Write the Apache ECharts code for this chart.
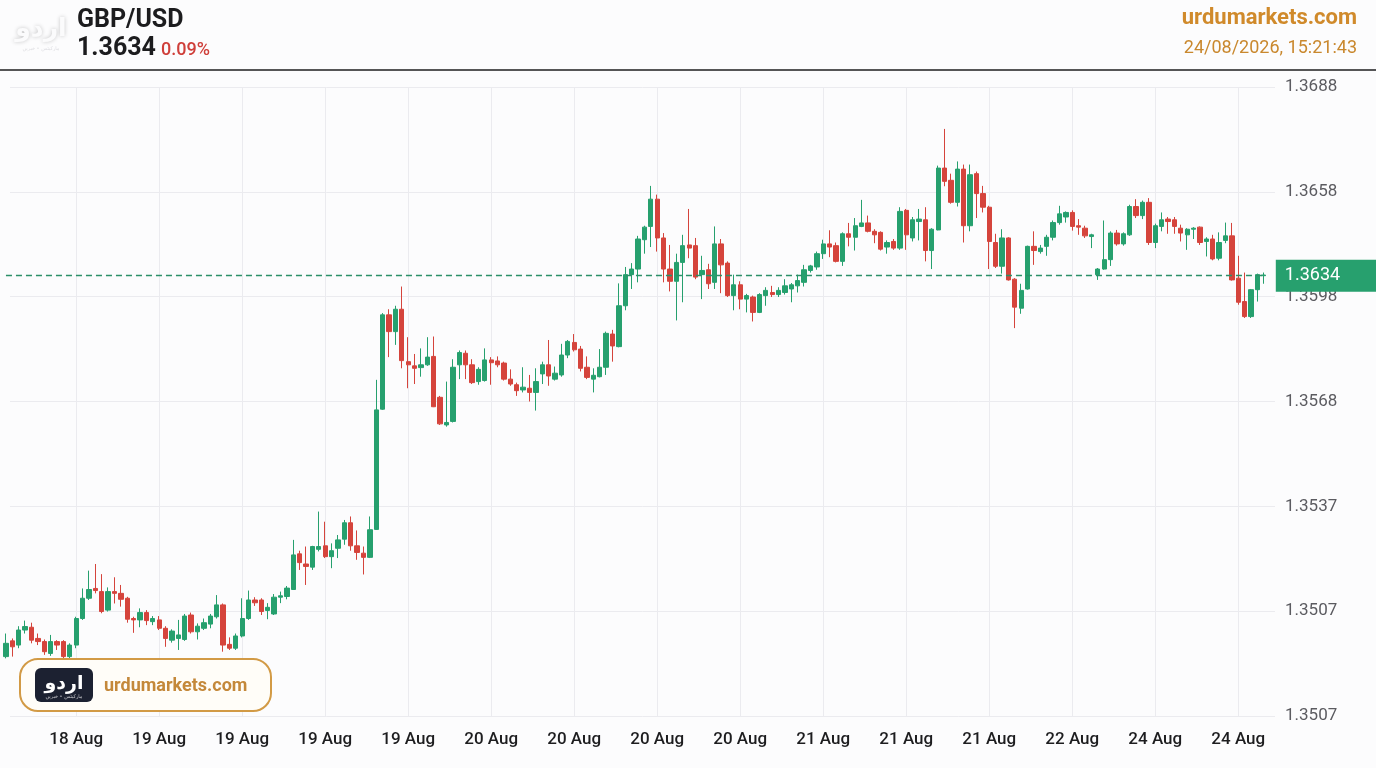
<!DOCTYPE html>
<html>
<head>
<meta charset="utf-8">
<script src="https://cdn.jsdelivr.net/npm/echarts@6/dist/echarts.min.js"></script>
<style>
html,body{margin:0;padding:0;background:#fcfcfd;}
#c{width:1376px;height:768px;}
</style>
</head>
<body>
<div id="c"></div>
<script>
// ---- data ----
const opens = [
1.35250,1.35295,1.35283,1.35326,1.35334,1.35302,1.35293,1.35259,1.35293,1.35293,
1.35250,1.35283,1.35359,1.35417,1.35445,1.35436,1.35383,1.35436,1.35431,1.35417,
1.35359,1.35355,1.35376,1.35350,1.35355,1.35331,1.35297,1.35302,1.35299,1.35369,
1.35321,1.35331,1.35343,1.35364,1.35398,1.35285,1.35274,1.35309,1.35359,1.35412,
1.35412,1.35382,1.35372,1.35420,1.35422,1.35442,1.35544,1.35515,1.35506,1.35557,
1.35567,1.35536,1.35560,1.35586,1.35633,1.35567,1.35546,1.35534,1.35614,1.35958,
1.36228,1.36180,1.36244,1.36094,1.36082,1.36077,1.36085,1.36109,1.35992,1.35913,
1.35923,1.36085,1.36118,1.36085,1.36037,1.36040,1.36099,1.36096,1.36090,1.36044,
1.36028,1.36013,1.36018,1.36006,1.36059,1.36085,1.36044,1.36056,1.36113,1.36149,
1.36130,1.36078,1.36044,1.36051,1.36078,1.36173,1.36137,1.36254,1.36343,1.36359,
1.36443,1.36481,1.36559,1.36448,1.36359,1.36324,1.36378,1.36428,1.36426,1.36343,
1.36357,1.36321,1.36431,1.36376,1.36283,1.36314,1.36273,1.36279,1.36235,1.36283,
1.36292,1.36286,1.36292,1.36302,1.36311,1.36321,1.36355,1.36365,1.36403,1.36431,
1.36426,1.36381,1.36460,1.36450,1.36481,1.36491,1.36467,1.36464,1.36422,1.36438,
1.36419,1.36527,1.36448,1.36495,1.36500,1.36412,1.36471,1.36648,1.36613,1.36550,
1.36645,1.36483,1.36632,1.36575,1.36536,1.36435,1.36367,1.36448,1.36330,1.36247,
1.36302,1.36424,1.36409,1.36424,1.36450,1.36492,1.36508,1.36521,1.36483,1.36476,
1.36452,1.36343,1.36359,1.36386,1.36462,1.36431,1.36457,1.36538,1.36512,1.36550,
1.36435,1.36481,1.36502,1.36500,1.36476,1.36457,1.36473,1.36479,1.36438,1.36445,
1.36390,1.36441,1.36454,1.36333,1.36266,1.36223,1.36300,1.36340];

const closes = [
1.35288,1.35278,1.35326,1.35336,1.35297,1.35293,1.35264,1.35293,1.35283,1.35250,
1.35283,1.35359,1.35417,1.35442,1.35439,1.35379,1.35436,1.35431,1.35414,1.35357,
1.35355,1.35376,1.35353,1.35359,1.35331,1.35302,1.35323,1.35312,1.35366,1.35321,
1.35337,1.35347,1.35366,1.35398,1.35283,1.35274,1.35309,1.35359,1.35412,1.35404,
1.35379,1.35391,1.35420,1.35424,1.35446,1.35541,1.35519,1.35508,1.35565,1.35565,
1.35536,1.35553,1.35584,1.35633,1.35567,1.35548,1.35534,1.35613,1.35956,1.36228,
1.36180,1.36244,1.36097,1.36085,1.36075,1.36085,1.36107,1.35965,1.35916,1.35920,
1.36078,1.36120,1.36085,1.36034,1.36072,1.36099,1.36091,1.36085,1.36044,1.36030,
1.36011,1.36021,1.36006,1.36037,1.36085,1.36053,1.36061,1.36113,1.36152,1.36128,
1.36075,1.36049,1.36055,1.36078,1.36175,1.36139,1.36254,1.36343,1.36359,1.36445,
1.36479,1.36559,1.36448,1.36359,1.36324,1.36378,1.36426,1.36419,1.36336,1.36355,
1.36317,1.36431,1.36371,1.36283,1.36314,1.36273,1.36283,1.36235,1.36286,1.36298,
1.36286,1.36298,1.36311,1.36314,1.36326,1.36357,1.36368,1.36403,1.36431,1.36422,
1.36381,1.36460,1.36450,1.36483,1.36491,1.36467,1.36457,1.36416,1.36435,1.36419,
1.36524,1.36457,1.36500,1.36502,1.36412,1.36473,1.36648,1.36610,1.36550,1.36645,
1.36483,1.36629,1.36575,1.36536,1.36438,1.36367,1.36448,1.36328,1.36250,1.36298,
1.36424,1.36412,1.36419,1.36450,1.36492,1.36517,1.36521,1.36481,1.36479,1.36454,
1.36457,1.36359,1.36386,1.36462,1.36431,1.36460,1.36538,1.36512,1.36550,1.36435,
1.36483,1.36500,1.36495,1.36481,1.36462,1.36473,1.36476,1.36435,1.36445,1.36388,
1.36435,1.36454,1.36328,1.36264,1.36223,1.36300,1.36343,1.36342];

const lows = [
1.35245,1.35250,1.35274,1.35316,1.35288,1.35283,1.35255,1.35252,1.35269,1.35245,
1.35245,1.35274,1.35355,1.35412,1.35431,1.35374,1.35379,1.35402,1.35393,1.35347,
1.35318,1.35334,1.35340,1.35340,1.35326,1.35278,1.35290,1.35269,1.35295,1.35316,
1.35299,1.35326,1.35331,1.35359,1.35264,1.35269,1.35269,1.35305,1.35355,1.35395,
1.35369,1.35357,1.35369,1.35403,1.35414,1.35441,1.35498,1.35455,1.35498,1.35551,
1.35532,1.35503,1.35532,1.35570,1.35553,1.35527,1.35485,1.35532,1.35613,1.35956,
1.36107,1.36142,1.36075,1.36018,1.36030,1.36051,1.36082,1.35964,1.35913,1.35908,
1.35920,1.36044,1.36044,1.36030,1.36028,1.36037,1.36028,1.36078,1.36040,1.36025,
1.35996,1.36006,1.35980,1.35954,1.36030,1.36025,1.36040,1.36051,1.36104,1.36123,
1.36066,1.36044,1.36006,1.36049,1.36056,1.36094,1.36135,1.36241,1.36302,1.36321,
1.36403,1.36422,1.36409,1.36321,1.36295,1.36212,1.36264,1.36390,1.36330,1.36273,
1.36302,1.36302,1.36290,1.36279,1.36241,1.36244,1.36235,1.36209,1.36233,1.36254,
1.36279,1.36279,1.36286,1.36264,1.36292,1.36309,1.36349,1.36357,1.36388,1.36393,
1.36378,1.36368,1.36424,1.36412,1.36479,1.36464,1.36433,1.36412,1.36403,1.36414,
1.36414,1.36414,1.36438,1.36441,1.36381,1.36359,1.36470,1.36596,1.36546,1.36538,
1.36435,1.36467,1.36505,1.36521,1.36359,1.36362,1.36346,1.36326,1.36190,1.36231,
1.36300,1.36371,1.36403,1.36397,1.36441,1.36486,1.36492,1.36469,1.36457,1.36448,
1.36419,1.36328,1.36357,1.36368,1.36426,1.36426,1.36454,1.36505,1.36502,1.36428,
1.36419,1.36467,1.36460,1.36460,1.36438,1.36414,1.36445,1.36428,1.36395,1.36384,
1.36384,1.36433,1.36326,1.36257,1.36219,1.36219,1.36266,1.36317];

const highs = [
1.35316,1.35302,1.35337,1.35353,1.35347,1.35316,1.35299,1.35312,1.35297,1.35297,
1.35288,1.35364,1.35445,1.35496,1.35515,1.35486,1.35448,1.35477,1.35455,1.35421,
1.35364,1.35388,1.35383,1.35366,1.35366,1.35337,1.35328,1.35355,1.35372,1.35376,
1.35345,1.35359,1.35372,1.35426,1.35402,1.35305,1.35316,1.35417,1.35439,1.35420,
1.35417,1.35403,1.35429,1.35436,1.35452,1.35584,1.35553,1.35565,1.35567,1.35665,
1.35636,1.35574,1.35598,1.35641,1.35651,1.35611,1.35565,1.35651,1.36042,1.36233,
1.36244,1.36254,1.36309,1.36164,1.36116,1.36132,1.36164,1.36166,1.35996,1.36037,
1.36101,1.36126,1.36126,1.36101,1.36078,1.36132,1.36107,1.36109,1.36094,1.36072,
1.36034,1.36078,1.36056,1.36075,1.36094,1.36156,1.36080,1.36145,1.36156,1.36173,
1.36139,1.36109,1.36075,1.36130,1.36180,1.36185,1.36318,1.36365,1.36376,1.36454,
1.36483,1.36597,1.36572,1.36462,1.36428,1.36403,1.36457,1.36531,1.36448,1.36397,
1.36374,1.36481,1.36445,1.36381,1.36343,1.36324,1.36288,1.36283,1.36290,1.36307,
1.36311,1.36307,1.36330,1.36319,1.36343,1.36371,1.36371,1.36409,1.36443,1.36470,
1.36435,1.36464,1.36491,1.36505,1.36557,1.36512,1.36473,1.36467,1.36441,1.36445,
1.36536,1.36531,1.36508,1.36531,1.36536,1.36476,1.36655,1.36760,1.36632,1.36667,
1.36658,1.36658,1.36638,1.36597,1.36540,1.36460,1.36473,1.36450,1.36333,1.36317,
1.36426,1.36467,1.36428,1.36457,1.36498,1.36540,1.36524,1.36527,1.36502,1.36483,
1.36460,1.36362,1.36498,1.36467,1.36471,1.36464,1.36543,1.36559,1.36555,1.36562,
1.36489,1.36521,1.36508,1.36508,1.36486,1.36476,1.36479,1.36481,1.36450,1.36457,
1.36464,1.36492,1.36491,1.36397,1.36349,1.36302,1.36346,1.36349];

const xTickLabels = ['18 Aug','19 Aug','19 Aug','19 Aug','19 Aug','20 Aug','20 Aug','20 Aug',
                     '20 Aug','21 Aug','21 Aug','21 Aug','22 Aug','24 Aug','24 Aug'];
const yTickLabels = ['1.3507','1.3507','1.3537','1.3568','1.3598','1.3658','1.3688'];
const firstTickIndex = 11;
const tickEvery = 13;
const lastPrice = 1.3634;
const pairName = 'GBP/USD';
const changeText = '0.09%';
const siteName = 'urdumarkets.com';
const stampText = '24/08/2026, 15:21:43';

// ---- built from the arrays ----
const categories = opens.map((_, i) => String(i));
const candles = opens.map((o, i) => [o, closes[i], lows[i], highs[i]]);
const isTick = (i) => i >= firstTickIndex && (i - firstTickIndex) % tickEvery === 0;

const GREEN = '#26a06e';
const RED = '#d5443c';
const GRID = '#ebebef';

const chart = echarts.init(document.getElementById('c'), null, {renderer: 'canvas'});
chart.setOption({
  animation: false,
  backgroundColor: '#fcfcfd',
  textStyle: {fontFamily: 'Roboto'},
  grid: [
    {left: 10, right: 101, top: 87, bottom: 52},
    {left: 5.96, right: 112.2, top: 87, bottom: 52}
  ],
  xAxis: [
    {gridIndex: 0, type: 'value', min: 0, max: 1, show: false},
    {
      gridIndex: 1, type: 'category', data: categories, boundaryGap: false,
      axisLine: {show: false}, axisTick: {show: false},
      axisLabel: {
        interval: (i) => isTick(i),
        formatter: (v, i) => isTick(i) ? xTickLabels[(i - firstTickIndex) / tickEvery] : '',
        fontSize: 17, fontWeight: 500, color: '#1d1d1f', margin: 15, fontFamily: 'Roboto'
      },
      splitLine: {show: true, interval: (i) => isTick(i), lineStyle: {color: GRID, width: 1}}
    }
  ],
  yAxis: [
    {
      gridIndex: 0, type: 'value', position: 'right',
      min: 1.3508, max: 1.3688, interval: 0.003,
      axisLine: {show: false}, axisTick: {show: false},
      axisLabel: {formatter: (v, i) => yTickLabels[i], margin: 10, fontSize: 17, color: '#5b5b60', fontFamily: 'Roboto'},
      splitLine: {show: true, lineStyle: {color: GRID, width: 1}}
    },
    {gridIndex: 1, type: 'value', min: 1.3508, max: 1.3688, show: false}
  ],
  series: [
    {
      type: 'candlestick', xAxisIndex: 1, yAxisIndex: 1,
      data: candles, barWidth: 4.8, clip: false,
      itemStyle: {color: GREEN, color0: RED, borderColor: GREEN, borderColor0: RED, borderWidth: 1},
      markLine: {
        silent: true, symbol: ['none', 'none'], animation: false, precision: 5,
        lineStyle: {color: '#2b8f68', type: [6, 4], width: 1.3},
        label: {
          show: true, position: 'end', distance: 12,
          formatter: () => lastPrice.toFixed(4),
          color: '#ffffff', fontSize: 18, fontFamily: 'Roboto',
          backgroundColor: '#27a06e', padding: [7, 42, 7, 9]
        },
        data: [{yAxis: lastPrice}]
      },
      z: 3
    }
  ],
  graphic: [
    {type: 'text', x: 41, y: 29, z: 50, style: {text: 'اردو', font: 'bold 25px "DejaVu Sans"', fill: '#fbfbfc', align: 'center', verticalAlign: 'middle', textShadowColor: 'rgba(0,0,0,0.22)', textShadowBlur: 4}},
    {type: 'text', x: 41, y: 49, z: 50, style: {text: 'مارکیٹس • خبریں', font: '5px "DejaVu Sans"', fill: '#dedee2', align: 'center', verticalAlign: 'middle'}},
    {type: 'text', x: 77, y: 21, z: 50, style: {text: pairName, font: 'bold 25px Roboto', fill: '#1c1c1e', align: 'left', verticalAlign: 'middle'}},
    {type: 'text', x: 77, y: 49, z: 50, style: {text: lastPrice.toFixed(4), font: 'bold 25px Roboto', fill: '#1c1c1e', align: 'left', verticalAlign: 'middle'}},
    {type: 'text', x: 161, y: 50, z: 50, style: {text: changeText, font: '500 18px Roboto', fill: '#cf3f3a', align: 'left', verticalAlign: 'middle'}},
    {type: 'text', x: 1357, y: 18, z: 50, style: {text: siteName, font: 'bold 22px Roboto', fill: '#d08a2b', align: 'right', verticalAlign: 'middle'}},
    {type: 'text', x: 1357, y: 48, z: 50, style: {text: stampText, font: '18px Roboto', fill: '#c9882e', align: 'right', verticalAlign: 'middle'}},
    {type: 'line', z: 50, shape: {x1: 0, y1: 70, x2: 1376, y2: 70}, style: {stroke: '#1e1e1e', lineWidth: 1.6}},
    {type: 'rect', z: 60, shape: {x: 20, y: 659, width: 251, height: 52, r: 18}, style: {fill: '#fffdf8', stroke: '#d29a45', lineWidth: 2}},
    {type: 'rect', z: 61, shape: {x: 35, y: 668, width: 58, height: 34, r: 6}, style: {fill: '#1c2131'}},
    {type: 'text', x: 64, y: 684, z: 62, style: {text: 'اردو', font: 'bold 19px "DejaVu Sans"', fill: '#ffffff', align: 'center', verticalAlign: 'middle'}},
    {type: 'text', x: 64, y: 697, z: 62, style: {text: 'مارکیٹس • خبریں', font: '5px "DejaVu Sans"', fill: '#c8c8cc', align: 'center', verticalAlign: 'middle'}},
    {type: 'text', x: 104, y: 686, z: 62, style: {text: siteName, font: 'bold 18px Roboto', fill: '#c4883a', align: 'left', verticalAlign: 'middle'}}
  ]
});
</script>
</body>
</html>
